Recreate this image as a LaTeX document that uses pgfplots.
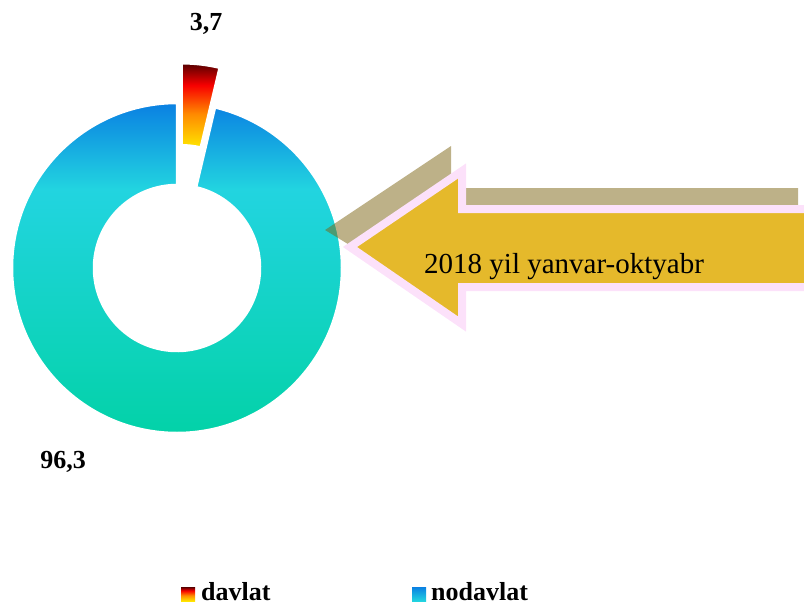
\documentclass[border=0pt]{standalone}
\usepackage{pgfplots}
\pgfplotsset{compat=1.18}
\usepackage{pgfplotstable}
\usetikzlibrary{calc}
\usepackage{fontspec}
\setmainfont{Liberation Serif}

\definecolor{nodTop}{HTML}{0A80E2}
\definecolor{nodMid}{HTML}{22D4E0}
\definecolor{nodBot}{HTML}{03D2A8}
\definecolor{davTop}{HTML}{550000}
\definecolor{davRed}{HTML}{F80000}
\definecolor{davOr}{HTML}{FF8A00}
\definecolor{davBot}{HTML}{FFE600}
\definecolor{arrGold}{HTML}{E5B92B}
\definecolor{arrPink}{HTML}{FCE1FA}
\definecolor{shadowK}{RGB}{123,99,17}

\pgfdeclareverticalshading{nodshade}{100bp}{color(0bp)=(nodBot); color(25bp)=(nodBot); color(62bp)=(nodMid); color(75bp)=(nodTop); color(100bp)=(nodTop)}
\pgfdeclareverticalshading{nodlegshade}{100bp}{color(0bp)=(nodMid); color(25bp)=(nodMid); color(75bp)=(nodTop); color(100bp)=(nodTop)}
\pgfdeclareverticalshading{davshade}{100bp}{color(0bp)=(davBot); color(25bp)=(davBot); color(45bp)=(davOr); color(62bp)=(davRed); color(75bp)=(davTop); color(100bp)=(davTop)}

\pgfplotstableread{
label value
davlat 3.7
nodavlat 96.3
}\sharetable

\begin{document}%
\begin{tikzpicture}
\pgfplotstablegetelem{0}{value}\of\sharetable \let\vdav\pgfplotsretval
\pgfplotstablegetelem{1}{value}\of\sharetable \let\vnod\pgfplotsretval
\pgfmathsetmacro{\aS}{90}
\pgfmathsetmacro{\aM}{90+3.6*\vnod}
\pgfmathsetmacro{\aE}{\aM+3.6*\vdav}
\pgfmathsetmacro{\aB}{(\aM+\aE)/2}
\begin{axis}[scale only axis, width=804pt, height=605pt,
  xmin=0, xmax=804, ymin=0, ymax=605, y dir=reverse, hide axis, clip=false]
% donut: nodavlat
\shadedraw[shading=nodshade, draw=white, line width=2.5pt, line join=round]
  ($(axis cs:177,268)+(\aS:165pt)$) arc[start angle=\aS, end angle=\aM, radius=165pt]
  -- ++(\aM:-82pt) arc[start angle=\aM, end angle=\aS, radius=83pt] -- cycle;
% donut: davlat (exploded)
\shadedraw[shading=davshade, draw=white, line width=2.5pt, line join=round]
  ($(axis cs:177,268)+(\aB:40pt)+(\aM:165pt)$) arc[start angle=\aM, end angle=\aE, radius=165pt]
  -- ++(\aE:-82pt) arc[start angle=\aE, end angle=\aM, radius=83pt] -- cycle;
% value labels
\node[font=\fontsize{26}{30}\selectfont\bfseries] at (axis cs:206,24) {3,7};
\node[font=\fontsize{26}{30}\selectfont\bfseries] at (axis cs:63,462) {96,3};
% arrow shadow
\fill[shadowK, fill opacity=0.5] (axis cs:325,230) -- (axis cs:451,146) -- (axis cs:451,188)
  -- (axis cs:798,188) -- (axis cs:798,270) -- (axis cs:451,270) -- (axis cs:451,307) -- cycle;
% arrow
\fill[arrGold] (axis cs:350,247) -- (axis cs:462,171) -- (axis cs:462,209) -- (axis cs:804,209)
  -- (axis cs:804,287) -- (axis cs:462,287) -- (axis cs:462,324) -- cycle;
\draw[arrPink, line width=8pt, miter limit=10] (axis cs:804,209) -- (axis cs:462,209) -- (axis cs:462,171)
  -- (axis cs:350,247) -- (axis cs:462,324) -- (axis cs:462,287) -- (axis cs:804,287);
\node[anchor=base west, inner sep=0pt, font=\fontsize{29}{33}\selectfont] at (axis cs:424,273) {2018 yil yanvar-oktyabr};
% legend
\shade[shading=davshade] (axis cs:181,587) rectangle (axis cs:195,601);
\node[anchor=base west, inner sep=0pt, font=\fontsize{26}{30}\selectfont\bfseries] at (axis cs:201,600) {davlat};
\shade[shading=nodlegshade] (axis cs:412,587) rectangle (axis cs:426,601);
\node[anchor=base west, inner sep=0pt, font=\fontsize{26}{30}\selectfont\bfseries] at (axis cs:431,600) {nodavlat};
\end{axis}
\pgfresetboundingbox
\path (current axis.south west) rectangle (current axis.north east);
\end{tikzpicture}%
\end{document}
